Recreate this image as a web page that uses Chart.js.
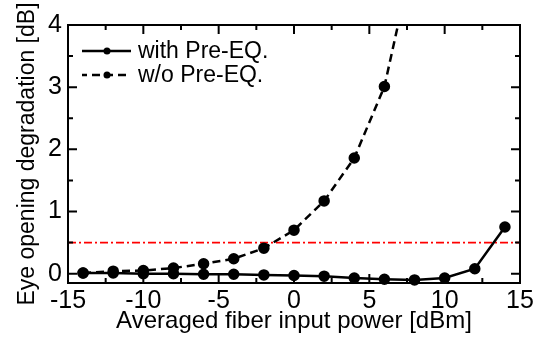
<!DOCTYPE html>
<html>
<head>
<meta charset="utf-8">
<script src="https://cdn.jsdelivr.net/npm/chart.js@4/dist/chart.umd.min.js"></script>
<style>
  html, body { margin: 0; padding: 0; background: #fff; }
  #wrap { width: 542px; height: 338px; }
</style>
</head>
<body>
<div id="wrap"><canvas id="chart" width="542" height="338"></canvas></div>
<script>
// Eye opening degradation vs averaged fiber input power

const inputPower = [-14, -12, -10, -8, -6, -4, -2, 0, 2, 4, 6, 8, 10, 12, 14];
const withPreEq = [0.01, 0.01, 0.0, 0.0, -0.01, -0.01, -0.02, -0.03, -0.04, -0.07, -0.09, -0.1, -0.07, 0.08, 0.75];

const woPower = [-14, -12, -10, -8, -6, -4, -2, 0, 2, 4, 6, 8];
const woPreEq = [0.01, 0.04, 0.05, 0.09, 0.16, 0.24, 0.41, 0.70, 1.17, 1.86, 3.01, 5.2];

const limitX = [-15, 15];
const limitY = [0.5, 0.5];

const xTicks = [-15, -10, -5, 0, 5, 10, 15];
const yTicks = [0, 1, 2, 3, 4];

const FONT = '"Liberation Sans", Arial, sans-serif';

// draws the box, inward ticks and the legend
const framePlugin = {
    id: 'frame',
    afterDraw(chart) {
        const ctx = chart.ctx;
        const area = chart.chartArea;
        const xs = chart.scales.x;
        const ys = chart.scales.y;
        ctx.save();
        ctx.strokeStyle = '#000';
        ctx.lineWidth = 2;
        ctx.strokeRect(area.left, area.top, area.right - area.left, area.bottom - area.top);

        ctx.beginPath();
        for (let v = -15; v <= 15; v += 2.5) {
            const px = xs.getPixelForValue(v);
            const len = (v % 5 === 0) ? 9 : 5;
            ctx.moveTo(px, area.bottom); ctx.lineTo(px, area.bottom - len);
            ctx.moveTo(px, area.top); ctx.lineTo(px, area.top + len);
        }
        for (let v = 0; v <= 4; v += 0.5) {
            const py = ys.getPixelForValue(v);
            const len = (v % 1 === 0) ? 9 : 5;
            ctx.moveTo(area.left, py); ctx.lineTo(area.left + len, py);
            ctx.moveTo(area.right, py); ctx.lineTo(area.right - len, py);
        }
        ctx.stroke();

        // legend
        const items = [
            { label: 'with Pre-EQ.', dash: [], y: 51 },
            { label: 'w/o Pre-EQ.', dash: [8, 5], y: 75 }
        ];
        ctx.font = '23px ' + FONT;
        ctx.textBaseline = 'middle';
        ctx.fillStyle = '#000';
        items.forEach(it => {
            ctx.lineWidth = 2.5;
            ctx.setLineDash(it.dash);
            ctx.lineDashOffset = it.dash.length ? 3 : 0;
            ctx.beginPath();
            ctx.moveTo(82, it.y);
            ctx.lineTo(131, it.y);
            ctx.stroke();
            ctx.setLineDash([]);
            ctx.beginPath();
            ctx.arc(107, it.y, 3.5, 0, Math.PI * 2);
            ctx.fill();
            ctx.fillText(it.label, 138, it.y + 1);
        });
        ctx.restore();
    }
};

const ctx = document.getElementById('chart').getContext('2d');
new Chart(ctx, {
    type: 'line',
    data: {
        datasets: [
            {
                label: 'with Pre-EQ.',
                data: inputPower.map((x, i) => ({ x: x, y: withPreEq[i] })),
                borderColor: '#000',
                backgroundColor: '#000',
                borderWidth: 2.5,
                pointRadius: 4.5,
                pointHoverRadius: 4.5,
                tension: 0,
                clip: false
            },
            {
                label: 'w/o Pre-EQ.',
                data: woPower.map((x, i) => ({ x: x, y: woPreEq[i] })),
                borderColor: '#000',
                backgroundColor: '#000',
                borderWidth: 2.5,
                borderDash: [8, 5],
                pointRadius: 4.5,
                pointHoverRadius: 4.5,
                tension: 0
            },
            {
                label: 'limit',
                data: limitX.map((x, i) => ({ x: x, y: limitY[i] })),
                borderColor: 'rgb(255, 0, 0)',
                borderWidth: 1.7,
                borderDash: [8, 3, 2, 3],
                pointRadius: 0,
                tension: 0,
                order: 5
            }
        ]
    },
    options: {
        responsive: false,
        animation: false,
        devicePixelRatio: 1,
        layout: {
            padding: { top: 25, right: 22, left: 0, bottom: 0 }
        },
        plugins: {
            legend: { display: false },
            tooltip: { enabled: false }
        },
        scales: {
            x: {
                type: 'linear',
                min: -15,
                max: 15,
                afterBuildTicks: scale => { scale.ticks = xTicks.map(v => ({ value: v })); },
                afterFit: scale => { scale.height = 55; },
                grid: { display: false, drawTicks: false },
                border: { display: false },
                ticks: {
                    color: '#000',
                    padding: 3,
                    maxRotation: 0,
                    font: { family: FONT, size: 25 }
                },
                title: {
                    display: true,
                    text: 'Averaged fiber input power [dBm]',
                    color: '#000',
                    padding: { top: 0, bottom: 2 },
                    font: { family: FONT, size: 24 }
                }
            },
            y: {
                type: 'linear',
                min: -0.15,
                max: 4,
                afterBuildTicks: scale => { scale.ticks = yTicks.map(v => ({ value: v })); },
                afterFit: scale => { scale.width = 68; },
                grid: { display: false, drawTicks: false },
                border: { display: false },
                ticks: {
                    color: '#000',
                    padding: 6,
                    font: { family: FONT, size: 25 }
                },
                title: {
                    display: true,
                    text: 'Eye opening degradation [dB]',
                    color: '#000',
                    padding: { top: 14, bottom: 0 },
                    font: { family: FONT, size: 23 }
                }
            }
        }
    },
    plugins: [framePlugin]
});
</script>
</body>
</html>
